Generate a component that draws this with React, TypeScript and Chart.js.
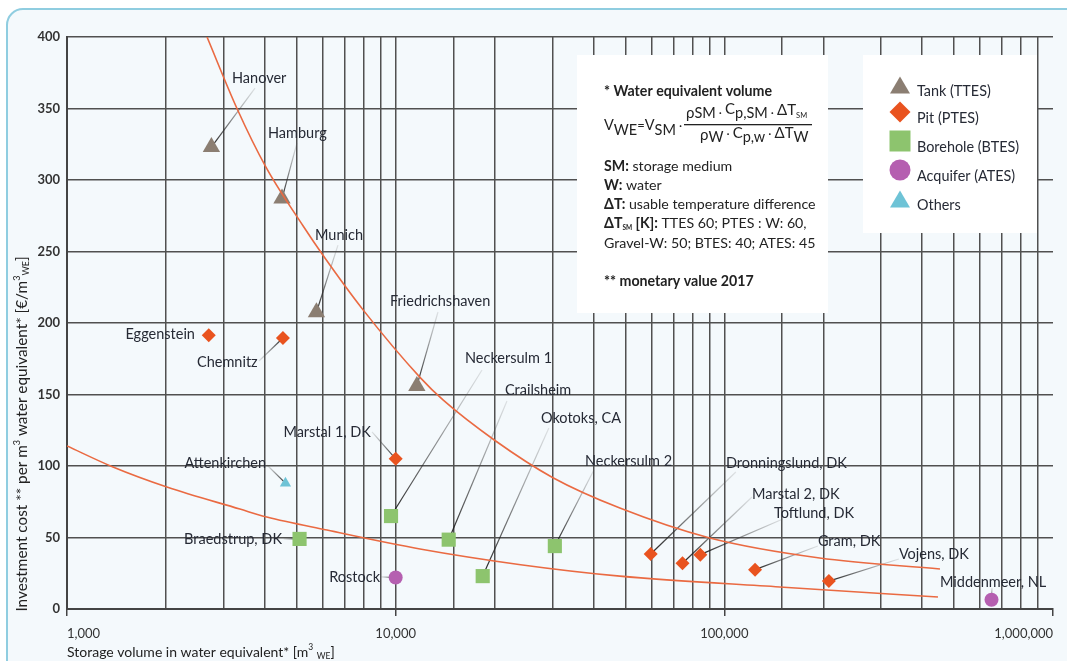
import React, { useEffect, useRef } from 'react';
import { Chart, registerables } from 'chart.js';

Chart.register(...registerables);

const FONT = 'Lato, "Noto Sans", sans-serif';

// ---------- data ----------
const tankNames = ['Hanover', 'Hamburg', 'Munich', 'Friedrichshaven'];
const tankVolume = [2750, 4510, 5740, 11600];
const tankCost = [323, 287, 207.5, 156];

const pitNames = ['Eggenstein', 'Chemnitz', 'Marstal 1, DK', 'Dronningslund, DK', 'Marstal 2, DK', 'Toftlund, DK', 'Gram, DK', 'Vojens, DK'];
const pitVolume = [2700, 4540, 10000, 59700, 74600, 84500, 124000, 208000];
const pitCost = [191.5, 189.5, 105, 38.5, 32, 38, 27.5, 19.5];

const boreholeNames = ['Braedstrup, DK', 'Neckersulm 1', 'Crailsheim', 'Okotoks, CA', 'Neckersulm 2'];
const boreholeVolume = [5100, 9680, 14500, 18400, 30500];
const boreholeCost = [49, 65, 48.5, 23, 44];

const aquiferNames = ['Rostock', 'Middenmeer, NL'];
const aquiferVolume = [10000, 650000];
const aquiferCost = [22, 6.5];

const otherNames = ['Attenkirchen'];
const otherVolume = [4620];
const otherCost = [88];

// fitted cost curves
const upperCurveVolume = [2667, 3290, 4030, 5224, 6025, 7970, 11860, 13960, 20000, 30000, 48100, 90300, 195000, 453000];
const upperCurveCost = [400, 350, 309, 268, 247, 209, 162, 146, 118, 92, 70.6, 49.7, 35.7, 28];
const lowerCurveVolume = [1000, 1380, 2013, 3357, 4054, 6180, 11860, 24000, 48100, 147500, 446700];
const lowerCurveCost = [114, 99.3, 85.3, 69.9, 64.3, 55.2, 42, 31, 23, 15.4, 8.4];

const xTickValues = [1000, 10000, 100000, 1000000];
const yTickStep = 50;

const legendLabels = ['Tank (TTES)', 'Pit (PTES)', 'Borehole (BTES)', 'Acquifer (ATES)', 'Others'];

// label placement (data coordinates): text anchor, alignment, leader start
type LabelPos = { lx: number; ly: number; align: 'left' | 'right'; sx?: number; sy?: number };
const tankLabelPos: LabelPos[] = [
  { lx: 3177, ly: 371.3, align: 'left', sx: 3733, sy: 364.3 },
  { lx: 4088, ly: 332.9, align: 'left', sx: 5009, sy: 325.9 },
  { lx: 5682, ly: 261.5, align: 'left', sx: 6675, sy: 254.5 },
  { lx: 9610, ly: 215.4, align: 'left', sx: 13450, sy: 207.7 },
];
const pitLabelPos: LabelPos[] = [
  { lx: 2451, ly: 192.3, align: 'right' },
  { lx: 2486, ly: 172.7, align: 'left', sx: 3838, sy: 173.4 },
  { lx: 8410, ly: 123.8, align: 'right', sx: 8470, sy: 123.8 },
  { lx: 101100, ly: 102.1, align: 'left', sx: 108400, sy: 95.8 },
  { lx: 121400, ly: 80.4, align: 'left', sx: 121400, sy: 78.3 },
  { lx: 141600, ly: 67.1, align: 'left', sx: 150700, sy: 62.9 },
  { lx: 192600, ly: 47.6, align: 'left', sx: 192600, sy: 44.1 },
  { lx: 339700, ly: 38.5, align: 'left', sx: 339700, sy: 35 },
];
const boreholeLabelPos: LabelPos[] = [
  { lx: 4510, ly: 49, align: 'right', sx: 4560, sy: 49 },
  { lx: 16250, ly: 175.5, align: 'left', sx: 18310, sy: 167.1 },
  { lx: 21500, ly: 153.1, align: 'left', sx: 21810, sy: 145.5 },
  { lx: 27670, ly: 133.6, align: 'left', sx: 29250, sy: 126.6 },
  { lx: 37670, ly: 103.5, align: 'left', sx: 40100, sy: 97.2 },
];
const aquiferLabelPos: LabelPos[] = [
  { lx: 8960, ly: 22.4, align: 'right', sx: 9030, sy: 22.4 },
  { lx: 452900, ly: 18.9, align: 'left', sx: 652000, sy: 14.7 },
];
const otherLabelPos: LabelPos[] = [
  { lx: 4031, ly: 102.1, align: 'right', sx: 4059, sy: 100.7 },
];

// ---------- styles ----------
const COL_TANK = '#8b7e72';
const COL_PIT = '#e9531f';
const COL_BORE = '#8dc46e';
const COL_AQUI = '#b55fb0';
const COL_OTHER = '#6ec3d6';
const COL_CURVE = '#ea6a42';
const COL_GRID = '#505050';
const COL_TEXT = '#262a35';
const LABEL_SIZE = 14.5;
const BOX_SIZE = 14.2;
const LEGEND_SIZE = 14.4;
const FORM_SIZE = 14.5;

type Seg = { t: string; bold?: boolean; size?: number; dy?: number };

function richWidth(ctx: CanvasRenderingContext2D, segs: Seg[], base: number) {
  let w = 0;
  for (const s of segs) {
    ctx.font = `${s.bold ? 'bold ' : ''}${s.size ?? base}px ${FONT}`;
    w += ctx.measureText(s.t).width;
  }
  return w;
}

function drawRich(ctx: CanvasRenderingContext2D, segs: Seg[], x: number, y: number, base: number) {
  let cx = x;
  for (const s of segs) {
    ctx.font = `${s.bold ? 'bold ' : ''}${s.size ?? base}px ${FONT}`;
    ctx.fillText(s.t, cx, y + (s.dy ?? 0));
    cx += ctx.measureText(s.t).width;
  }
  return cx;
}

function drawMarker(ctx: CanvasRenderingContext2D, kind: string, x: number, y: number, s: number, color: string) {
  ctx.save();
  ctx.fillStyle = color;
  ctx.beginPath();
  if (kind === 'triangle') {
    ctx.moveTo(x, y - s * 0.85);
    ctx.lineTo(x + s, y + s * 0.85);
    ctx.lineTo(x - s, y + s * 0.85);
    ctx.closePath();
  } else if (kind === 'diamond') {
    ctx.moveTo(x, y - s);
    ctx.lineTo(x + s, y);
    ctx.lineTo(x, y + s);
    ctx.lineTo(x - s, y);
    ctx.closePath();
  } else if (kind === 'square') {
    ctx.rect(x - s, y - s, 2 * s, 2 * s);
  } else {
    ctx.arc(x, y, s, 0, Math.PI * 2);
  }
  ctx.fill();
  ctx.restore();
}

const isPow10 = (v: number) => {
  const l = Math.log10(v);
  return Math.abs(l - Math.round(l)) < 1e-9;
};

const decorPlugin = {
  id: 'decor',
  beforeDraw(chart: any) {
    const ctx: CanvasRenderingContext2D = chart.ctx;
    ctx.save();
    ctx.fillStyle = '#ffffff';
    ctx.fillRect(0, 0, chart.width, chart.height);
    ctx.beginPath();
    (ctx as any).roundRect(7, 9, chart.width + 20, chart.height + 20, 16);
    ctx.fillStyle = '#f4f9fc';
    ctx.fill();
    ctx.strokeStyle = '#8fcde0';
    ctx.lineWidth = 2;
    ctx.stroke();
    ctx.restore();
  },
  beforeDatasetsDraw(chart: any) {
    const ctx: CanvasRenderingContext2D = chart.ctx;
    const xs = chart.scales.x;
    const ys = chart.scales.y;
    ctx.save();
    // info boxes
    ctx.fillStyle = '#ffffff';
    ctx.fillRect(577, 55, 251, 258);
    ctx.fillRect(863, 55, 174, 178);

    // leader lines
    const groups: [number[], number[], LabelPos[]][] = [
      [tankVolume, tankCost, tankLabelPos],
      [pitVolume, pitCost, pitLabelPos],
      [boreholeVolume, boreholeCost, boreholeLabelPos],
      [aquiferVolume, aquiferCost, aquiferLabelPos],
      [otherVolume, otherCost, otherLabelPos],
    ];
    for (const [vx, vy, lp] of groups) {
      lp.forEach((p, i) => {
        if (p.sx === undefined || p.sy === undefined) return;
        const x0 = xs.getPixelForValue(p.sx);
        const y0 = ys.getPixelForValue(p.sy);
        const x1 = xs.getPixelForValue(vx[i]);
        const y1 = ys.getPixelForValue(vy[i]);
        const g = ctx.createLinearGradient(x0, y0, x1, y1);
        g.addColorStop(0, 'rgba(90,90,90,0.15)');
        g.addColorStop(1, 'rgba(20,20,20,0.95)');
        ctx.strokeStyle = g;
        ctx.lineWidth = 1.2;
        ctx.beginPath();
        ctx.moveTo(x0, y0);
        ctx.lineTo(x1, y1);
        ctx.stroke();
      });
    }
    ctx.restore();
  },
  afterDatasetsDraw(chart: any) {
    const ctx: CanvasRenderingContext2D = chart.ctx;
    const xs = chart.scales.x;
    const ys = chart.scales.y;
    ctx.save();
    ctx.fillStyle = COL_TEXT;
    ctx.textBaseline = 'middle';
    ctx.font = `${LABEL_SIZE}px ${FONT}`;
    const groups: [string[], LabelPos[]][] = [
      [tankNames, tankLabelPos],
      [pitNames, pitLabelPos],
      [boreholeNames, boreholeLabelPos],
      [aquiferNames, aquiferLabelPos],
      [otherNames, otherLabelPos],
    ];
    for (const [names, lp] of groups) {
      names.forEach((n, i) => {
        const p = lp[i];
        ctx.textAlign = p.align;
        ctx.fillText(n, xs.getPixelForValue(p.lx), ys.getPixelForValue(p.ly));
      });
    }
    ctx.textAlign = 'left';

    // formula box
    ctx.fillStyle = '#222222';
    drawRich(ctx, [{ t: '* Water equivalent volume', bold: true }], 604, 91, BOX_SIZE);
    ctx.textBaseline = 'alphabetic';
    drawRich(ctx, [
      { t: 'V', size: FORM_SIZE },
      { t: 'WE', size: FORM_SIZE, dy: 5 },
      { t: '=', size: 13 },
      { t: 'V', size: FORM_SIZE },
      { t: 'SM', size: FORM_SIZE, dy: 5 },
      { t: ' · ', size: 12 },
    ], 604, 130, BOX_SIZE);
    ctx.fillRect(684, 124, 128, 1.3);
    drawRich(ctx, [
      { t: 'ρ', size: 15, dy: 1 },
      { t: 'SM', size: FORM_SIZE, dy: 1 },
      { t: ' · ', size: 12 },
      { t: 'C', size: 15, dy: -3 },
      { t: 'p,SM', size: FORM_SIZE, dy: 1 },
      { t: ' · ', size: 12 },
      { t: 'ΔT', size: 15, dy: -2 },
      { t: 'SM', size: 7.5, dy: 1 },
    ], 686, 117, BOX_SIZE);
    drawRich(ctx, [
      { t: 'ρ', size: 15, dy: 2 },
      { t: 'W', size: FORM_SIZE, dy: 4 },
      { t: ' · ', size: 12 },
      { t: 'C', size: 15 },
      { t: 'p,w', size: FORM_SIZE, dy: 4 },
      { t: ' · ', size: 12 },
      { t: 'ΔT', size: 15 },
      { t: 'W', size: FORM_SIZE, dy: 4 },
    ], 700, 138, BOX_SIZE);
    ctx.textBaseline = 'middle';
    drawRich(ctx, [{ t: 'SM:', bold: true }, { t: ' storage medium' }], 604, 166, BOX_SIZE);
    drawRich(ctx, [{ t: 'W:', bold: true }, { t: ' water' }], 604, 185, BOX_SIZE);
    drawRich(ctx, [{ t: 'ΔT:', bold: true }, { t: ' usable temperature difference' }], 604, 204, BOX_SIZE);
    drawRich(ctx, [
      { t: 'ΔT', bold: true },
      { t: 'SM', bold: true, size: 6.5, dy: 5 },
      { t: ' [K]:', bold: true },
      { t: ' TTES 60; PTES : W: 60,' },
    ], 604, 223, BOX_SIZE);
    drawRich(ctx, [{ t: 'Gravel-W: 50; BTES: 40; ATES: 45' }], 604, 243, BOX_SIZE);
    drawRich(ctx, [{ t: '** monetary value 2017', bold: true }], 604, 281, BOX_SIZE);

    // legend
    const kinds = ['triangle', 'diamond', 'square', 'circle', 'triangle'];
    const cols = [COL_TANK, COL_PIT, COL_BORE, COL_AQUI, COL_OTHER];
    const rowY = [91, 118, 147, 176, 205];
    const sizes = [10, 10.5, 10.5, 10.5, 10];
    legendLabels.forEach((l, i) => {
      const my = rowY[i] - 6;
      drawMarker(ctx, kinds[i], 900, my, sizes[i], cols[i]);
      ctx.fillStyle = COL_TEXT;
      ctx.font = `${LEGEND_SIZE}px ${FONT}`;
      ctx.fillText(l, 917, rowY[i]);
    });

    // axis titles
    ctx.fillStyle = '#222222';
    const ySegs: Seg[] = [
      { t: 'Investment cost ** per m' },
      { t: '3', size: 9, dy: -5 },
      { t: ' water equivalent* [€/m' },
      { t: '3', size: 9, dy: -5 },
      { t: 'WE', size: 9, dy: 4 },
      { t: ']' },
    ];
    const yw = richWidth(ctx, ySegs, 15.3);
    ctx.save();
    ctx.translate(22, 434);
    ctx.rotate(-Math.PI / 2);
    drawRich(ctx, ySegs, -yw / 2, 0, 15.3);
    ctx.restore();
    drawRich(ctx, [
      { t: 'Storage volume in water equivalent* [m' },
      { t: '3', size: 8.5, dy: -5 },
      { t: ' ' },
      { t: 'WE', size: 8.5, dy: 4 },
      { t: ']' },
    ], 67, 652, 14);
    ctx.restore();
  },
};

export default function App() {
  const ref = useRef<HTMLCanvasElement>(null);
  useEffect(() => {
    const canvas = ref.current;
    if (!canvas) return;
    const toPts = (xs: number[], ys: number[]) => xs.map((x, i) => ({ x, y: ys[i] }));
    const chart = new Chart(canvas, {
      type: 'scatter',
      data: {
        datasets: [
          {
            label: 'upper curve',
            data: toPts(upperCurveVolume, upperCurveCost),
            showLine: true,
            borderColor: COL_CURVE,
            borderWidth: 1.6,
            pointRadius: 0,
            cubicInterpolationMode: 'monotone',
          } as any,
          {
            label: 'lower curve',
            data: toPts(lowerCurveVolume, lowerCurveCost),
            showLine: true,
            borderColor: COL_CURVE,
            borderWidth: 1.6,
            pointRadius: 0,
            cubicInterpolationMode: 'monotone',
          } as any,
          {
            label: legendLabels[0],
            data: toPts(tankVolume, tankCost),
            pointStyle: 'triangle',
            pointRadius: 10,
            backgroundColor: COL_TANK,
            borderWidth: 0,
          },
          {
            label: legendLabels[1],
            data: toPts(pitVolume, pitCost),
            pointStyle: 'rectRot',
            pointRadius: 7,
            backgroundColor: COL_PIT,
            borderWidth: 0,
          },
          {
            label: legendLabels[2],
            data: toPts(boreholeVolume, boreholeCost),
            pointStyle: 'rect',
            pointRadius: 10,
            backgroundColor: COL_BORE,
            borderWidth: 0,
          },
          {
            label: legendLabels[3],
            data: toPts(aquiferVolume, aquiferCost),
            pointStyle: 'circle',
            pointRadius: 7,
            backgroundColor: COL_AQUI,
            borderWidth: 0,
          },
          {
            label: legendLabels[4],
            data: toPts(otherVolume, otherCost),
            pointStyle: 'triangle',
            pointRadius: 6.5,
            backgroundColor: COL_OTHER,
            borderWidth: 0,
          },
        ],
      },
      options: {
        responsive: false,
        animation: false,
        devicePixelRatio: 1,
        layout: { padding: { top: 37, right: 14, left: 0, bottom: 0 } },
        plugins: { legend: { display: false }, tooltip: { enabled: false }, title: { display: false } },
        scales: {
          x: {
            type: 'logarithmic',
            min: xTickValues[0],
            max: xTickValues[xTickValues.length - 1],
            afterFit: (s: any) => { s.height = 52; },
            border: { display: true, color: '#444444', width: 2 },
            grid: {
              drawTicks: true,
              tickLength: 7,
              lineWidth: 1.5,
              color: (c: any) => (c.tick && c.tick.value >= xTickValues[xTickValues.length - 1] ? 'rgba(0,0,0,0)' : COL_GRID),
              tickColor: (c: any) => (c.tick && isPow10(c.tick.value) ? '#444444' : 'rgba(0,0,0,0)'),
              tickWidth: 1.5,
            },
            ticks: {
              autoSkip: false,
              maxRotation: 0,
              minRotation: 0,
              align: 'inner',
              padding: 10,
              color: '#333333',
              font: { family: FONT, size: 13 },
              callback: (v: any) => (xTickValues.includes(Number(v)) ? Number(v).toLocaleString('en-US') : ''),
            },
          } as any,
          y: {
            min: 0,
            max: 400,
            afterFit: (s: any) => { s.width = 67; },
            border: { display: true, color: '#444444', width: 2 },
            grid: { drawTicks: false, lineWidth: 1.5, color: COL_GRID },
            ticks: {
              stepSize: yTickStep,
              padding: 7,
              color: '#333333',
              font: { family: FONT, size: 13, weight: 'bold' },
            },
          } as any,
        },
      },
      plugins: [decorPlugin],
    });
    return () => chart.destroy();
  }, []);
  return (
    <div style={{ position: 'fixed', left: 0, top: 0, width: 1067, height: 661 }}>
      <canvas ref={ref} width={1067} height={661} style={{ display: 'block' }} />
    </div>
  );
}
